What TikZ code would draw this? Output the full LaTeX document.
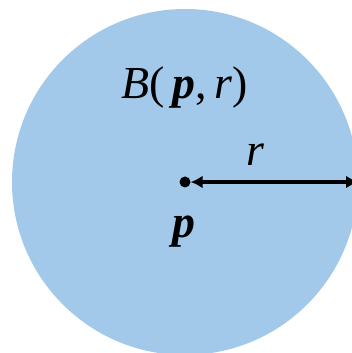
\documentclass[tikz,border=0pt]{standalone}
\usepackage{fontspec}
\setmainfont{Liberation Serif}
\usepackage{xcolor}
\usepackage{tikz}
\usetikzlibrary{arrows.meta,positioning}
\definecolor{cBall}{RGB}{162,201,234}

\begin{document}
\begin{tikzpicture}[x=1bp,y=1bp,font=\fontsize{46}{54}\selectfont]
  \useasboundingbox (0,0) rectangle (352,353);
  \clip (0,0) rectangle (352,353);
  \coordinate (p) at (185,171);
  \fill[cBall] (p) circle (173);
  \coordinate (rim) at (358,171);
  \node[circle,fill=black,inner sep=0pt,minimum size=11bp] (pdot) at (p) {};
  \draw[line width=3.5bp,{Latex[length=12bp,width=13bp]}-{Latex[length=12bp,width=13bp]}] (pdot) -- (rim);
  \node[anchor=base] (ball) at (185,255) {\textit{B}(\,\textbf{\textit{p}},\,\textit{r})};
  \node[anchor=base] (rlab) at (255,188) {\textit{r}};
  \node[anchor=base] (plab) at (184,116) {\textbf{\textit{p}}};
\end{tikzpicture}
\end{document}
